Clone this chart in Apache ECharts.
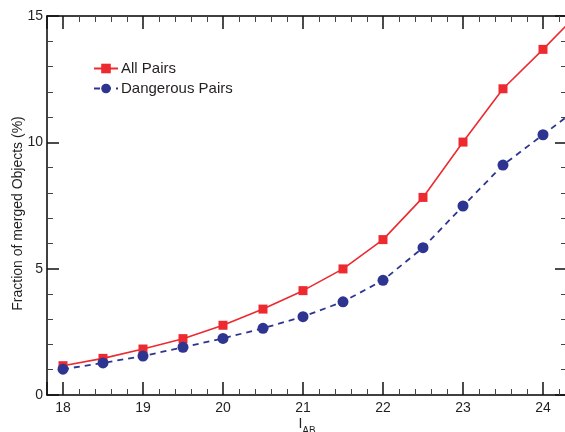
<!DOCTYPE html>
<html>
<head>
<meta charset="utf-8">
<script src="https://cdn.jsdelivr.net/npm/echarts@6/dist/echarts.min.js"></script>
<style>
html,body{margin:0;padding:0;background:#fff;}
#chart{width:565px;height:432px;}
</style>
</head>
<body>
<div id="chart"></div>
<script>
var magnitudes = [18, 18.5, 19, 19.5, 20, 20.5, 21, 21.5, 22, 22.5, 23, 23.5, 24, 24.5];
var allPairs = [1.16, 1.45, 1.82, 2.23, 2.76, 3.40, 4.13, 4.99, 6.15, 7.82, 10.01, 12.12, 13.68, 15.3];
var dangerousPairs = [1.02, 1.27, 1.54, 1.89, 2.24, 2.64, 3.10, 3.69, 4.54, 5.83, 7.48, 9.10, 10.30, 11.5];
var seriesNames = ['All Pairs', 'Dangerous Pairs'];
var xRange = [17.8, 24.3];
var yRange = [0, 15];

var FONT = 'Liberation Sans';
var TXT = '#231f20';
var RED = '#ec2a2f';
var BLUE = '#2d3590';

function pairs(xs, ys) { return xs.map(function (x, i) { return [x, ys[i]]; }); }

var baseX = {
  type: 'value', min: xRange[0], max: xRange[1], minInterval: 1, maxInterval: 1,
  axisLine: { show: true, onZero: false, lineStyle: { color: '#000', width: 1.5 } },
  axisTick: { show: true, inside: true, length: 13, lineStyle: { color: '#111', width: 1.5 } },
  minorTick: { show: true, splitNumber: 5, length: 6, lineStyle: { color: '#444', width: 1 } },
  splitLine: { show: false }, minorSplitLine: { show: false }
};
var baseY = {
  type: 'value', min: yRange[0], max: yRange[1], interval: 5,
  axisLine: { show: true, onZero: false, lineStyle: { color: '#000', width: 1.5 } },
  axisTick: { show: true, inside: true, length: 12, lineStyle: { color: '#111', width: 1.5 } },
  minorTick: { show: true, splitNumber: 5, length: 6, lineStyle: { color: '#444', width: 1 } },
  splitLine: { show: false }, minorSplitLine: { show: false }
};

var chart = echarts.init(document.getElementById('chart'), null, { renderer: 'canvas' });
chart.setOption({
  animation: false,
  backgroundColor: '#fff',
  textStyle: { fontFamily: FONT },
  grid: { left: 47, right: -2, top: 16, bottom: 37, containLabel: false, outerBoundsMode: 'none' },
  legend: {
    left: 93, top: 61, padding: 0, orient: 'vertical', itemWidth: 24, itemHeight: 12, itemGap: 5,
    textStyle: { fontFamily: FONT, fontSize: 15, color: TXT, padding: [0, 0, 0, -2] },
    data: seriesNames
  },
  xAxis: [
    Object.assign({}, baseX, {
      position: 'bottom',
      axisLabel: { show: true, showMinLabel: false, showMaxLabel: false, margin: 6,
        fontFamily: FONT, fontSize: 14, color: TXT },
      name: '{i|I}{sub|AB}', nameLocation: 'middle', nameGap: 17, nameMoveOverlap: false,
      nameTextStyle: { rich: {
        i: { fontFamily: FONT, fontSize: 14, color: TXT },
        sub: { fontFamily: FONT, fontSize: 10, color: TXT, verticalAlign: 'bottom', padding: [14, 0, 0, 0] }
      } }
    }),
    Object.assign({}, baseX, { position: 'top', axisLabel: { show: false } })
  ],
  yAxis: [
    Object.assign({}, baseY, {
      position: 'left',
      axisLabel: { show: true, margin: 4, fontFamily: FONT, fontSize: 14, color: TXT },
      name: 'Fraction of merged Objects (%)', nameLocation: 'middle', nameGap: 22, nameMoveOverlap: false,
      nameTextStyle: { fontFamily: FONT, fontSize: 14, color: TXT, padding: [0, 0, 0, -16] }
    }),
    Object.assign({}, baseY, { position: 'right', axisLabel: { show: false } })
  ],
  series: [
    {
      name: seriesNames[0], type: 'line', xAxisIndex: 0, yAxisIndex: 0,
      data: pairs(magnitudes, allPairs), clip: true,
      symbol: 'rect', symbolSize: 9, showAllSymbol: true,
      lineStyle: { color: RED, width: 1.6 },
      itemStyle: { color: RED }
    },
    {
      name: seriesNames[1], type: 'line', xAxisIndex: 0, yAxisIndex: 0,
      data: pairs(magnitudes, dangerousPairs), clip: true,
      symbol: 'circle', symbolSize: 11, showAllSymbol: true,
      lineStyle: { color: BLUE, width: 1.8, type: [6, 5] },
      itemStyle: { color: BLUE }
    }
  ]
});
</script>
</body>
</html>
